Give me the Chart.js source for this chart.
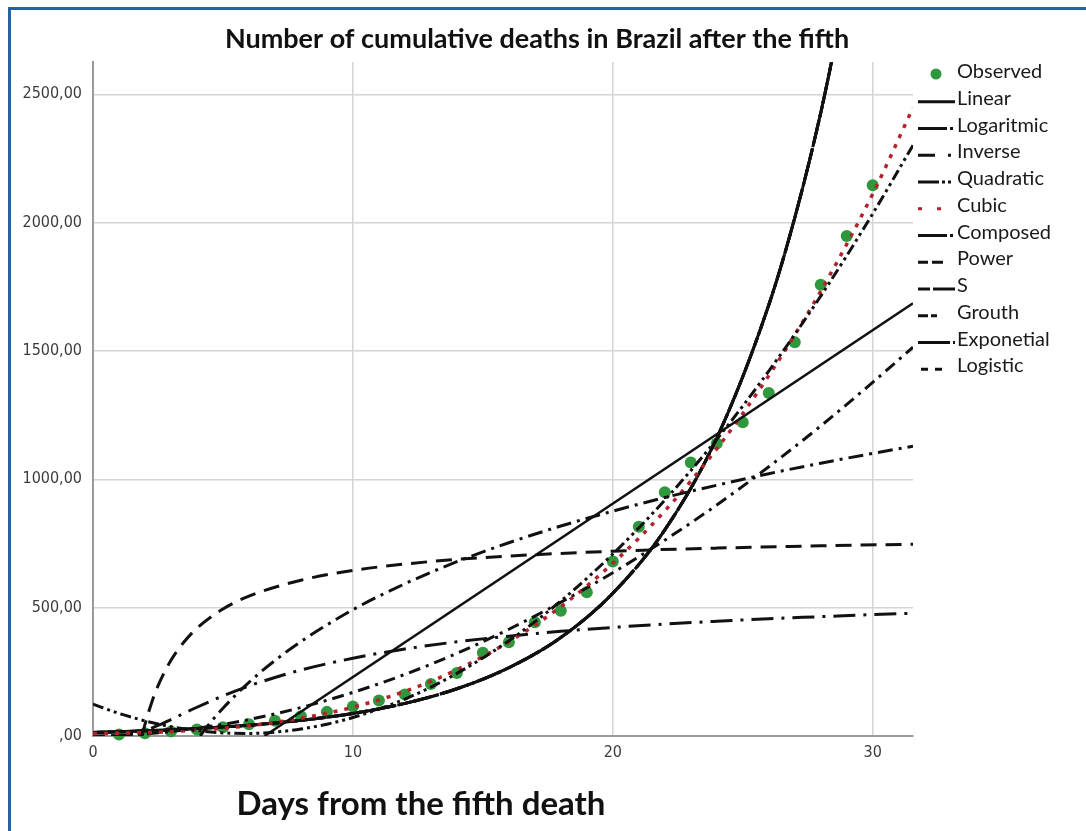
<!DOCTYPE html>
<html>
<head>
<meta charset="utf-8">
<title>Cumulative deaths in Brazil</title>
<script src="https://cdn.jsdelivr.net/npm/chart.js@4.4.1/dist/chart.umd.min.js"></script>
<style>
  html, body { margin: 0; padding: 0; background: #fff; }
  #wrap { position: relative; width: 1086px; height: 831px; overflow: hidden; }
  #frame { position: absolute; left: 8px; top: 7px; width: 1200px; height: 900px;
           border-left: 3px solid #2462a8; border-top: 3px solid #2462a8; }
  canvas { position: absolute; left: 0; top: 0; }
</style>
</head>
<body>
<div id="wrap">
  <canvas id="chart" width="1086" height="831"></canvas>
  <div id="frame"></div>
</div>
<script>
// observed cumulative deaths, days after the fifth death
const obsDays = [1, 2, 3, 4, 5, 6, 7, 8, 9, 10, 11, 12, 13, 14, 15, 16, 17, 18, 19, 20,
                 21, 22, 23, 24, 25, 26, 27, 28, 29, 30];
const obsDeaths = [6, 11, 18, 25, 34, 46, 59, 77, 94, 115, 138, 162, 203, 245, 324, 365, 443, 488, 560, 680,
                   815, 950, 1066, 1140, 1222, 1336, 1534, 1758, 1948, 2146];

// fitted curves
const linearDays = [6.6, 31.55];
const linearFit = [0, 1686];

const logDays = [4.12, 4.5, 5, 6, 7, 8, 10, 12, 14, 16, 18, 20, 22, 24, 26, 28, 30, 31.55];
const logFit = [0, 50, 108, 209, 294, 368, 492, 593, 679, 753, 818, 876, 929, 977, 1022, 1063, 1101, 1129];

const inverseDays = [1.89, 2, 2.25, 2.5, 3, 3.5, 4, 5, 6, 8, 10, 12, 14, 16, 20, 24, 28, 31.55];
const inverseFit = [0, 45, 128, 195, 295, 366, 420, 495, 545, 607, 645, 670, 688, 701, 720, 732, 741, 747];

const polyDays = [0, 1, 2, 3, 4, 5, 6, 7, 8, 9, 10, 12, 14, 16, 18, 20, 22, 24, 26, 28, 30, 31.55];
const quadraticFit = [124, 88, 59, 36, 21, 12, 10, 15, 27, 46, 72, 144, 244, 371, 526, 709, 919, 1156, 1422, 1714, 2035, 2302];
const cubicFit = [9, 11, 13, 17, 23, 30, 40, 53, 69, 89, 112, 174, 258, 367, 504, 673, 877, 1119, 1404, 1733, 2112, 2448];

// compound, growth, exponential and logistic give the same curve
const expDays = [0, 2, 4, 6, 8, 10, 12, 14, 16, 18, 20, 22, 24, 26, 27, 28, 29];
const compoundFit = [14, 20, 29, 42, 61, 88, 127, 184, 266, 384, 556, 803, 1161, 1679, 2019, 2428, 2920];

const powerDays = [0, 1, 2, 3, 4, 5, 6, 8, 10, 12, 14, 16, 18, 20, 22, 24, 26, 28, 30, 31.55];
const powerFit = [0, 2, 8, 17, 30, 45, 64, 111, 170, 240, 322, 416, 521, 636, 763, 900, 1049, 1208, 1378, 1515];

const sDays = [0.7, 1, 1.5, 2, 2.5, 3, 4, 5, 6, 7, 8, 10, 12, 14, 16, 18, 20, 22, 24, 26, 28, 30, 31.55];
const sFit = [0, 1, 7, 21, 41, 64, 112, 156, 195, 228, 257, 303, 339, 367, 389, 408, 423, 436, 447, 457, 465, 473, 478];

const xTicks = [0, 10, 20, 30];
const xTickLabels = ['0', '10', '20', '30'];
const yTicks = [0, 500, 1000, 1500, 2000, 2500];
const yTickLabels = [',00', '500,00', '1000,00', '1500,00', '2000,00', '2500,00'];

const legendNames = ['Observed', 'Linear', 'Logaritmic', 'Inverse', 'Quadratic', 'Cubic',
                     'Composed', 'Power', 'S', 'Grouth', 'Exponetial', 'Logistic'];

const GREEN = '#2f983c';
const RED = '#b3222c';
const INK = '#111';

const pairs = (xs, ys) => xs.map((x, i) => ({ x, y: ys[i] }));

const fit = (label, days, values, dash, color = INK, width = 3) => ({
  type: 'line',
  label,
  data: pairs(days, values),
  borderColor: color,
  borderWidth: width,
  borderDash: dash,
  pointRadius: 0,
  fill: false,
  cubicInterpolationMode: 'monotone',
  order: 1,
});

// legend samples: [dash pattern, color]
const legendStyles = [
  null,
  [[], INK],
  [[29, 3, 3, 10], INK],
  [[17, 13, 3, 10], INK],
  [[21, 3, 3, 3, 3, 10], INK],
  [[4, 15], RED],
  [[29, 3, 3, 10], INK],
  [[10, 4, 11, 20], INK],
  [[12, 3, 22, 10], INK],
  [[10, 3, 6, 18, 3, 10], INK],
  [[32, 3, 3, 10], INK],
  [[0, 3, 7, 7, 7, 20], INK],
];

const textPlugin = {
  id: 'texts',
  afterDraw(chart) {
    const ctx = chart.ctx;
    ctx.save();
    ctx.fillStyle = '#111';
    ctx.textAlign = 'center';
    ctx.textBaseline = 'alphabetic';
    ctx.font = 'bold 27px Lato';
    ctx.fillText('Number of cumulative deaths in Brazil after the fifth', 537, 48);
    ctx.font = 'bold 33px Lato';
    ctx.fillText('Days from the fifth death', 421, 815);

    ctx.textAlign = 'left';
    ctx.font = '20px Lato';
    legendNames.forEach((name, i) => {
      const base = 78 + i * 26.75;
      const st = legendStyles[i];
      if (!st) {
        ctx.fillStyle = GREEN;
        ctx.beginPath();
        ctx.arc(936, base - 4, 5.5, 0, Math.PI * 2);
        ctx.fill();
      } else {
        ctx.setLineDash(st[0]);
        ctx.strokeStyle = st[1];
        ctx.lineWidth = 3;
        ctx.beginPath();
        ctx.moveTo(918, base - 3);
        ctx.lineTo(955, base - 3);
        ctx.stroke();
        ctx.setLineDash([]);
      }
      ctx.fillStyle = '#1a1a1a';
      ctx.fillText(name, 957, base);
    });
    ctx.restore();
  }
};

const tickFont = { family: "'DejaVu Sans Condensed', 'DejaVu Sans'", size: 16 };

new Chart(document.getElementById('chart'), {
  type: 'line',
  data: {
    datasets: [
      {
        type: 'scatter',
        label: 'Observed',
        data: pairs(obsDays, obsDeaths),
        backgroundColor: GREEN,
        borderWidth: 0,
        pointRadius: 6,
        clip: 8,
        order: 2,
      },
      fit('Linear', linearDays, linearFit, [], INK, 2.5),
      fit('Logaritmic', logDays, logFit, [15, 6, 3, 6]),
      fit('Inverse', inverseDays, inverseFit, [16, 9]),
      fit('Quadratic', polyDays, quadraticFit, [11, 4, 3, 4, 3, 4]),
      fit('Cubic', polyDays, cubicFit, [4, 7], RED, 3.5),
      fit('Composed', expDays, compoundFit, [24, 4, 3, 4]),
      fit('Power', powerDays, powerFit, [12, 6, 3, 6]),
      fit('S', sDays, sFit, [22, 8, 3, 8]),
      fit('Grouth', expDays, compoundFit, [12, 3, 4, 3]),
      fit('Exponetial', expDays, compoundFit, [30, 3, 3, 3]),
      fit('Logistic', expDays, compoundFit, [9, 5]),
    ],
  },
  options: {
    responsive: false,
    animation: false,
    layout: { padding: { left: 0, top: 62, right: 173, bottom: 0 } },
    plugins: {
      legend: { display: false },
      title: { display: false },
      tooltip: { enabled: false },
    },
    scales: {
      x: {
        type: 'linear',
        min: 0,
        max: 31.55,
        afterBuildTicks: s => { s.ticks = xTicks.map(v => ({ value: v })); },
        afterFit: s => { s.height = 95; },
        ticks: {
          callback: (v, i) => xTickLabels[i],
          font: tickFont,
          color: '#3c3c3c',
          padding: 7,
          maxRotation: 0,
          autoSkip: false,
        },
        grid: { color: '#d4d4d4', lineWidth: 1.5, drawTicks: false },
        border: { color: '#9a9a9a', width: 2 },
      },
      y: {
        type: 'linear',
        min: 0,
        max: 2626,
        afterBuildTicks: s => { s.ticks = yTicks.map(v => ({ value: v })); },
        afterFit: s => { s.width = 93; },
        ticks: {
          callback: (v, i) => yTickLabels[i],
          font: tickFont,
          color: '#3c3c3c',
          padding: 11,
        },
        grid: { color: '#d4d4d4', lineWidth: 1.5, drawTicks: false },
        border: { color: '#9a9a9a', width: 2 },
      },
    },
  },
  plugins: [textPlugin],
});
</script>
</body>
</html>
